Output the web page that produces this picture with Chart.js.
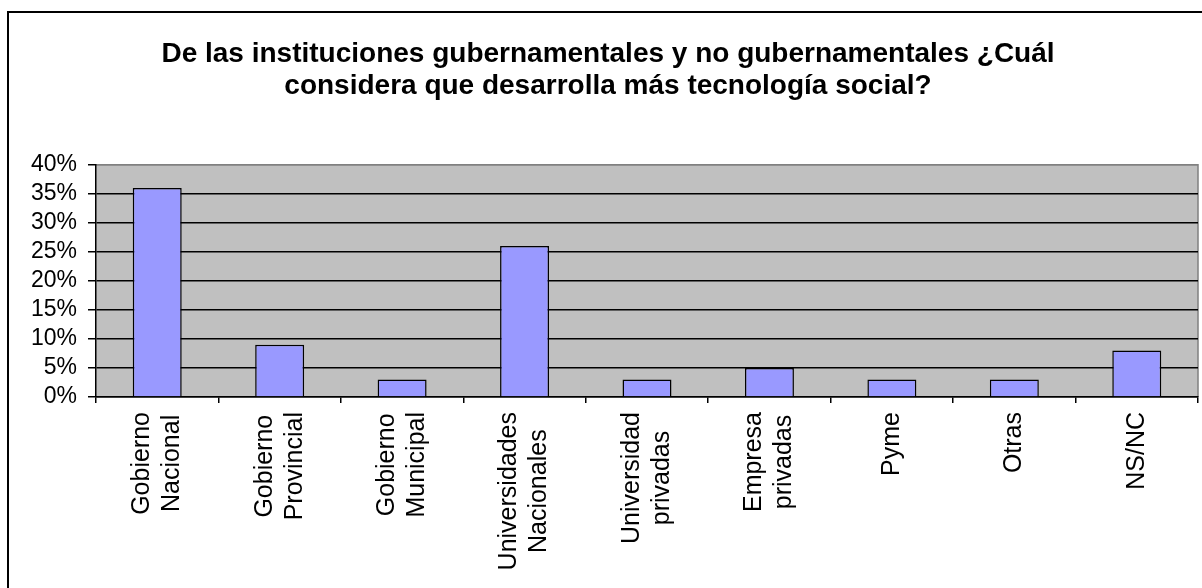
<!DOCTYPE html>
<html>
<head>
<meta charset="utf-8">
<title>Tecnología social</title>
<script src="https://cdn.jsdelivr.net/npm/chart.js@4.4.0/dist/chart.umd.min.js"></script>
<style>
  html, body { margin: 0; padding: 0; background: #fff; overflow: hidden; }
  #wrap { position: relative; width: 1202px; height: 588px; }
  #frame { position: absolute; left: 7px; top: 11px; width: 1300px; height: 700px; border: 2px solid #000; box-sizing: border-box; }
  #chart { position: absolute; left: 0; top: 0; }
</style>
</head>
<body>
<div id="wrap">
  <div id="frame"></div>
  <canvas id="chart" width="1202" height="588"></canvas>
</div>
<script>
// Categories (each entry = lines of the rotated label)
const categories = [
    ['Gobierno', 'Nacional'],
    ['Gobierno', 'Provincial'],
    ['Gobierno', 'Municipal'],
    ['Universidades', 'Nacionales'],
    ['Universidad', 'privadas'],
    ['Empresa', 'privadas'],
    ['Pyme'],
    ['Otras'],
    ['NS/NC']
];
// Share of answers, in %
const percentages = [36, 9, 3, 26, 3, 5, 3, 3, 8];
// Y axis ticks
const yMin = 0;
const yMax = 40;
const yStep = 5;

const titleLines = [
    'De las instituciones gubernamentales y no gubernamentales ¿Cuál',
    'considera que desarrolla más tecnología social?'
];

// Grey plot background like the old spreadsheet charts
const plotBackground = {
    id: 'plotBackground',
    beforeDraw(chart) {
        const { ctx, chartArea: a } = chart;
        ctx.save();
        ctx.fillStyle = '#C0C0C0';
        ctx.fillRect(a.left, a.top, a.right - a.left, a.bottom - a.top);
        ctx.strokeStyle = '#808080';
        ctx.lineWidth = 1.5;
        ctx.beginPath();
        ctx.moveTo(a.left, a.top);
        ctx.lineTo(a.right, a.top);
        ctx.lineTo(a.right, a.bottom);
        ctx.stroke();
        ctx.restore();
    }
};

// Rotated category labels, lines centred on each other, block hanging under the axis
const rotatedLabels = {
    id: 'rotatedLabels',
    afterDraw(chart) {
        const { ctx } = chart;
        const xScale = chart.scales.x;
        const lineGap = 30;
        const topY = xScale.top + 15;
        ctx.save();
        ctx.font = '25px "Liberation Sans", Arial, sans-serif';
        ctx.fillStyle = '#000';
        ctx.textAlign = 'center';
        ctx.textBaseline = 'middle';
        categories.forEach((lines, i) => {
            const cx = xScale.getPixelForTick(i);
            const longest = Math.max(...lines.map(l => ctx.measureText(l).width));
            lines.forEach((line, j) => {
                const x = cx + (j - (lines.length - 1) / 2) * lineGap;
                ctx.save();
                ctx.translate(x, topY + longest / 2);
                ctx.rotate(-Math.PI / 2);
                ctx.fillText(line, 0, 0);
                ctx.restore();
            });
        });
        ctx.restore();
    }
};

const chart = new Chart(document.getElementById('chart').getContext('2d'), {
    type: 'bar',
    data: {
        labels: categories.map(c => c.join(' ')),
        datasets: [{
            data: percentages,
            backgroundColor: '#9999FF',
            borderColor: '#000',
            borderWidth: 1.5,
            barPercentage: 0.4,
            categoryPercentage: 1
        }]
    },
    options: {
        responsive: false,
        animation: false,
        layout: { padding: { left: 18, right: 4, top: 0, bottom: 0 } },
        plugins: {
            legend: { display: false },
            tooltip: { enabled: false },
            title: {
                display: true,
                text: titleLines,
                color: '#000',
                font: { family: '"Liberation Sans", Arial, sans-serif', size: 28, weight: 'bold', lineHeight: 1.14 },
                padding: { top: 38, bottom: 63 }
            }
        },
        scales: {
            x: {
                afterFit: (scale) => { scale.height = 191; },
                ticks: { display: false },
                grid: {
                    display: true,
                    offset: true,
                    drawOnChartArea: false,
                    drawTicks: true,
                    tickLength: 6,
                    color: '#000',
                    tickColor: '#000',
                    lineWidth: 1.5
                },
                border: { display: true, color: '#000', width: 1.5 }
            },
            y: {
                min: yMin,
                max: yMax,
                afterFit: (scale) => { scale.width = 78; },
                ticks: {
                    stepSize: yStep,
                    autoSkip: false,
                    padding: 11,
                    color: '#000',
                    font: { family: '"Liberation Sans", Arial, sans-serif', size: 23 },
                    callback: (v) => v + '%'
                },
                grid: {
                    color: (ctx) => (ctx.tick && ctx.tick.value === yMax) ? '#808080' : '#000',
                    tickColor: '#000',
                    tickLength: 8,
                    lineWidth: 1.5
                },
                border: { display: true, color: '#000', width: 1.5 }
            }
        }
    },
    plugins: [plotBackground, rotatedLabels]
});
</script>
</body>
</html>
